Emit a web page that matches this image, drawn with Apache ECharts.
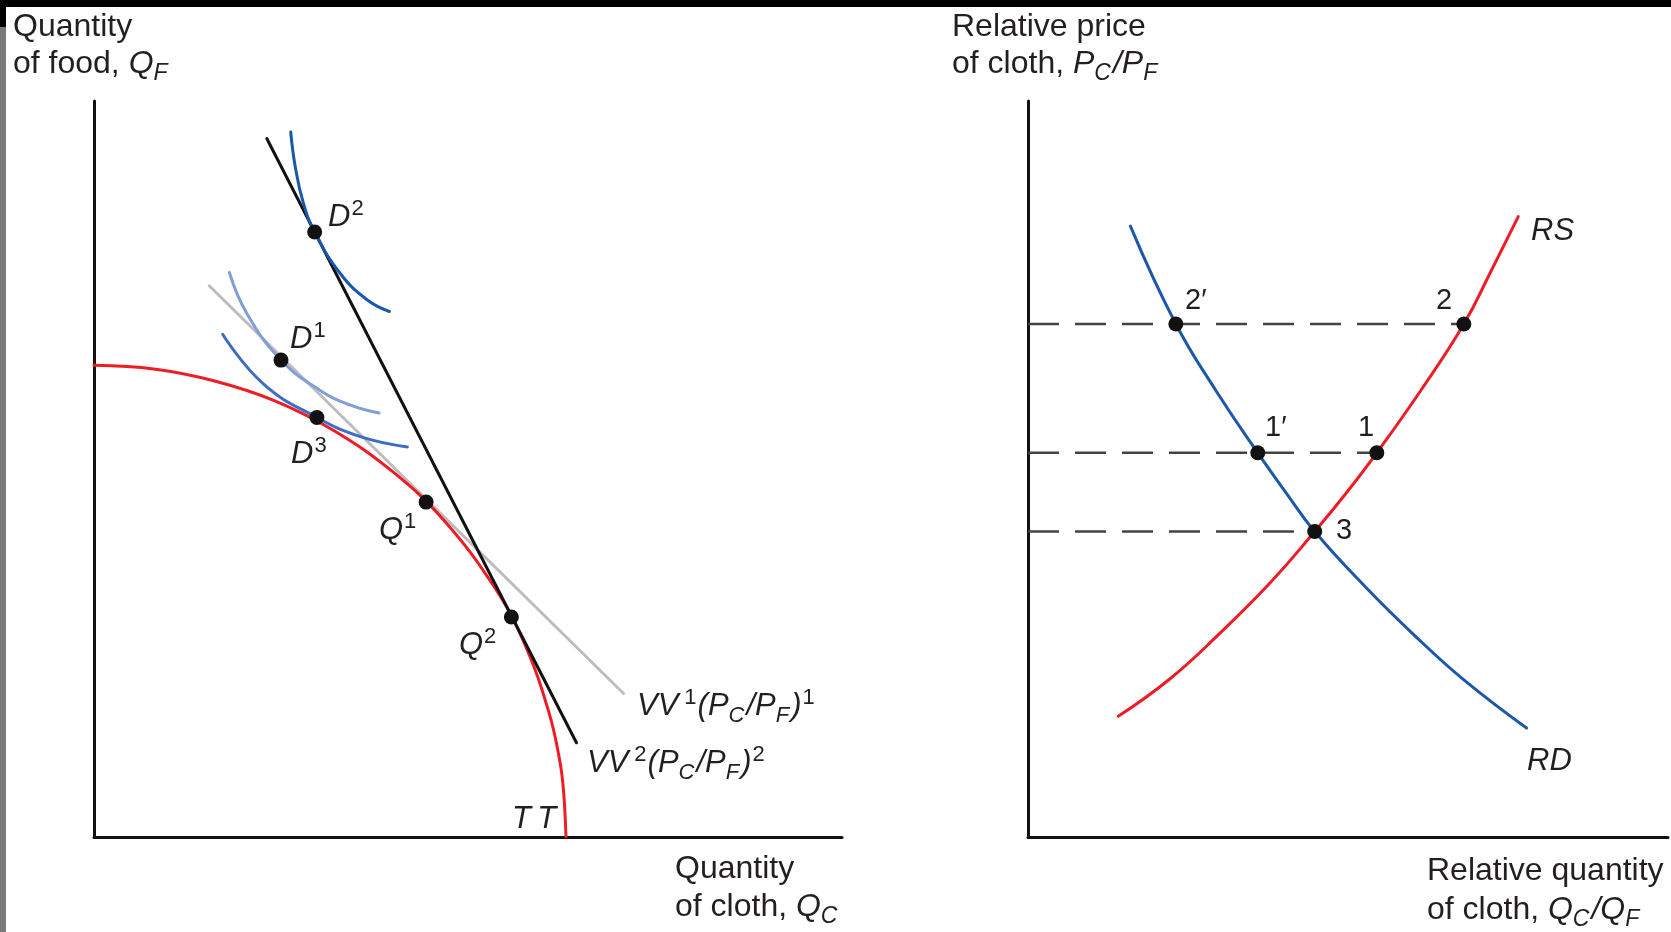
<!DOCTYPE html>
<html>
<head>
<meta charset="utf-8">
<title>TT and RS / RD</title>
<script src="https://cdn.jsdelivr.net/npm/echarts@6/dist/echarts.min.js"></script>
<style>
html, body { margin: 0; padding: 0; background: #fff; }
#main { width: 1671px; height: 932px; }
</style>
</head>
<body>
<div id="main"></div>
<script>
// ---- left panel (quantity of cloth / quantity of food), axes 0..100 ----
const ttCurve = [[0, 64.1], [8, 63.6], [16, 62.0], [24.1, 59.3], [32.1, 55.2], [40.1, 49.5], [46.8, 43.0],
  [53.5, 34.0], [57.5, 26.4], [60.8, 17.0], [62.3, 10.2], [62.8, 5.9], [63.1, 0]]
const vv1Line = [[15.4, 74.9], [70.8, 19.5]]
const vv2Line = [[23.1, 94.9], [64.5, 12.8]]
const indiffD2 = [[26.3, 95.8], [26.9, 91.1], [28.0, 86.1], [29.5, 82.2], [32.9, 76.6], [36.5, 73.0], [39.5, 71.4]]
const indiffD1 = [[18.1, 76.7], [20.4, 71.2], [25.0, 64.8], [30.2, 60.7], [34.2, 58.7], [38.1, 57.6]]
const indiffD3 = [[17.2, 68.3], [22.6, 61.6], [29.8, 57.0], [35.6, 54.4], [41.9, 53.0]]
// D2, D1, D3, Q1, Q2
const leftPoints = [[29.5, 82.2], [25.0, 64.8], [29.8, 57.0], [44.4, 45.5], [55.8, 29.9]]

// ---- right panel (relative quantity / relative price), axes 0..100 ----
const priceLevels = [69.7, 52.2, 41.5]   // points 2, 1, 3
const rdAtLevel = [23.1, 35.9, 44.8]     // 2', 1', 3
const rsAtLevel = [68.1, 54.5, 44.8]     // 2, 1, 3
const rsCurve = [[14.1, 16.4], [22.2, 21.5], [30.0, 27.7], [37.8, 34.5], [44.8, 41.5], [49.7, 46.7],
  [54.5, 52.2], [61.4, 60.7], [68.1, 69.7], [72.3, 76.8], [76.6, 84.3]]
const rdCurve = [[16.0, 83.0], [23.1, 69.7], [29.4, 60.6], [35.9, 52.2], [40.3, 46.8], [44.8, 41.5],
  [52.7, 34.0], [60.5, 27.3], [68.3, 21.2], [77.9, 14.8]]

const FONT = '"Liberation Sans", Arial, Helvetica, sans-serif'
const INK = '#231f20'
const RED = '#ee1c25'

function richSet (size) {
  const small = Math.round(size * 0.72)
  const base = { fill: INK, fontFamily: FONT, verticalAlign: 'middle' }
  return {
    i: Object.assign({}, base, { fontSize: size, fontStyle: 'italic' }),
    n: Object.assign({}, base, { fontSize: size, fontStyle: 'normal' }),
    sub: Object.assign({}, base, { fontSize: small, fontStyle: 'italic', padding: [Math.round(size * 0.6), 2, 0, 0] }),
    sup: Object.assign({}, base, { fontSize: small, fontStyle: 'normal', padding: [0, 0, Math.round(size * 0.5), 1] }),
    supv: Object.assign({}, base, { fontSize: small, fontStyle: 'normal', padding: [0, 1, Math.round(size * 0.5), 6] })
  }
}

function label (x, y, text, size, italic) {
  return {
    type: 'text',
    x: x,
    y: y,
    z: 100,
    style: {
      text: text,
      fill: INK,
      fontSize: size,
      fontFamily: FONT,
      fontStyle: italic ? 'italic' : 'normal',
      align: 'left',
      verticalAlign: 'middle',
      rich: richSet(size)
    }
  }
}

function valueAxis (gridIndex) {
  return {
    gridIndex: gridIndex,
    type: 'value',
    min: 0,
    max: 100,
    axisLine: { show: true, onZero: false, lineStyle: { color: '#111', width: 3 } },
    axisTick: { show: false },
    axisLabel: { show: false },
    splitLine: { show: false }
  }
}

function curve (data, color, width, z, smooth) {
  return {
    type: 'line',
    xAxisIndex: 0,
    yAxisIndex: 0,
    data: data,
    smooth: smooth,
    showSymbol: false,
    symbol: 'none',
    z: z,
    lineStyle: { color: color, width: width, cap: 'round' }
  }
}

function rightCurve (data, color, z) {
  const s = curve(data, color, 3, z, 0.45)
  s.xAxisIndex = 1
  s.yAxisIndex = 1
  return s
}

function dots (xIndex, data) {
  return {
    type: 'scatter',
    xAxisIndex: xIndex,
    yAxisIndex: xIndex,
    data: data,
    symbolSize: 15,
    z: 10,
    itemStyle: { color: '#111', opacity: 1 }
  }
}

// dashed guides from the price axis to the rightmost point of each level
const dashSeries = priceLevels.map((p, i) => ({
  type: 'line',
  xAxisIndex: 1,
  yAxisIndex: 1,
  data: [[0, p], [Math.max(rdAtLevel[i], rsAtLevel[i]), p]],
  showSymbol: false,
  symbol: 'none',
  z: 2,
  lineStyle: { color: '#444', width: 2.5, type: [31, 16] }
}))

const rightPoints = []
priceLevels.forEach((p, i) => {
  rightPoints.push([rdAtLevel[i], p])
  if (rsAtLevel[i] !== rdAtLevel[i]) rightPoints.push([rsAtLevel[i], p])
})

const option = {
  animation: false,
  backgroundColor: '#fff',
  grid: [
    { left: 94, top: 101, width: 748, height: 736 },
    { left: 1028, top: 101, width: 640, height: 736 }
  ],
  xAxis: [valueAxis(0), valueAxis(1)],
  yAxis: [valueAxis(0), valueAxis(1)],
  series: [
    curve(vv1Line, '#bdbdbd', 3, 2, false),
    curve(ttCurve, RED, 3, 3, 0.4),
    curve(vv2Line, '#111', 3, 4, false),
    curve(indiffD1, '#7f9fd6', 3, 5, 0.45),
    curve(indiffD3, '#3f6cc4', 3, 5, 0.45),
    curve(indiffD2, '#1a58ac', 3, 5, 0.45),
    dots(0, leftPoints),
    ...dashSeries,
    rightCurve(rsCurve, RED, 3),
    rightCurve(rdCurve, '#1c57a8', 4),
    dots(1, rightPoints)
  ],
  graphic: [
    { type: 'rect', shape: { x: 0, y: 0, width: 1671, height: 7 }, style: { fill: '#000' } },
    { type: 'rect', shape: { x: 0, y: 0, width: 6, height: 27 }, style: { fill: '#000' } },
    { type: 'rect', shape: { x: 0, y: 27, width: 6, height: 905 }, style: { fill: '#7a7a7a' } },

    // left panel texts
    label(13, 27, 'Quantity', 32, false),
    label(13, 64, 'of food, {i|Q}{sub|F}', 32, false),
    label(675, 869, 'Quantity', 32, false),
    label(675, 907, 'of cloth, {i|Q}{sub|C}', 32, false),
    label(328, 217, 'D{sup|2}', 31, true),
    label(290, 339, 'D{sup|1}', 31, true),
    label(291, 454, 'D{sup|3}', 31, true),
    label(379, 530, 'Q{sup|1}', 31, true),
    label(459, 645, 'Q{sup|2}', 31, true),
    label(637, 706, 'VV{supv|1}(P{sub|C}/P{sub|F}){sup|1}', 31, true),
    label(587, 763, 'VV{supv|2}(P{sub|C}/P{sub|F}){sup|2}', 31, true),
    label(512, 819, 'T\u2009T', 31, true),

    // right panel texts
    label(952, 27, 'Relative price', 32, false),
    label(952, 64, 'of cloth, {i|P}{sub|C}{i|/P}{sub|F}', 32, false),
    label(1427, 871, 'Relative quantity', 32, false),
    label(1427, 910, 'of cloth, {i|Q}{sub|C}{i|/Q}{sub|F}', 32, false),
    label(1531, 231, 'RS', 31, true),
    label(1527, 761, 'RD', 31, true),
    label(1185, 301, '2\u2032', 29, false),
    label(1436, 301, '2', 29, false),
    label(1265, 428, '1\u2032', 29, false),
    label(1358, 428, '1', 29, false),
    label(1336, 531, '3', 29, false)
  ]
}

const chart = echarts.init(document.getElementById('main'))
chart.setOption(option)
</script>
</body>
</html>
